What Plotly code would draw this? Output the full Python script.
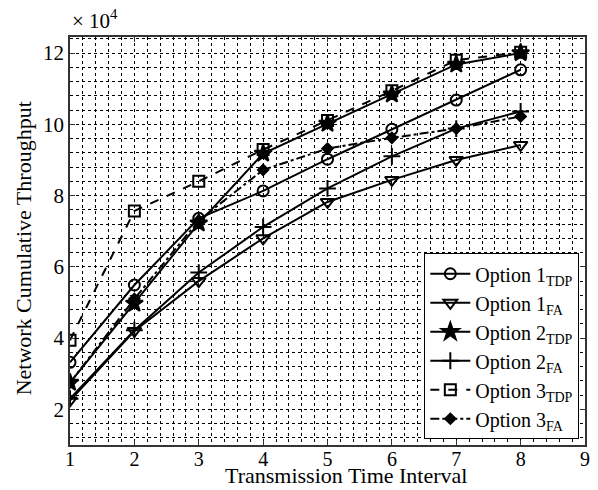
import plotly.graph_objects as go

tti = [1, 2, 3, 4, 5, 6, 7, 8]
opt1_tdp = [3.32, 5.49, 7.36, 8.13, 9.02, 9.86, 10.68, 11.53]
opt1_fa = [2.25, 4.2, 5.6, 6.8, 7.82, 8.44, 9.0, 9.42]
opt2_tdp = [2.75, 4.97, 7.22, 9.18, 10.02, 10.84, 11.68, 12.0]
opt2_fa = [2.3, 4.22, 5.84, 7.12, 8.2, 9.1, 9.88, 10.36]
opt3_tdp = [3.94, 7.57, 8.4, 9.29, 10.11, 10.94, 11.8, 12.02]
opt3_fa = [2.75, 5.1, 7.3, 8.72, 9.32, 9.62, 9.88, 10.22]

series = [
    ("Option 1<sub>TDP</sub>", opt1_tdp, "circle-open", "solid", 11),
    ("Option 1<sub>FA</sub>", opt1_fa, "triangle-down-open", "solid", 12),
    ("Option 2<sub>TDP</sub>", opt2_tdp, "star", "solid", 13),
    ("Option 2<sub>FA</sub>", opt2_fa, "cross-thin-open", "solid", 12),
    ("Option 3<sub>TDP</sub>", opt3_tdp, "square-open", "dash", 11),
    ("Option 3<sub>FA</sub>", opt3_fa, "diamond", "dashdot", 8),
]

fig = go.Figure()
for name, ys, sym, dash, size in series:
    fig.add_trace(go.Scatter(
        x=tti, y=ys, name=name, mode="lines+markers",
        line=dict(color="black", width=2, dash=dash),
        marker=dict(symbol=sym, size=size, color="black",
                    line=dict(color="black", width=2)),
    ))

font = dict(family="Liberation Serif", size=21, color="black")
xfont = dict(family="Liberation Serif", size=20, color="black")
tfont = dict(family="Liberation Serif", size=22, color="black")
lfont = dict(family="Liberation Serif", size=20, color="black")
axis_common = dict(
    showline=True, linecolor="#333", linewidth=1.5, mirror="ticks",
    ticks="inside", ticklen=5, tickcolor="#333",
    showgrid=True, gridcolor="black", griddash="dot", gridwidth=1,
    zeroline=False,
)
fig.update_xaxes(range=[1, 9], tick0=1, dtick=1, tickfont=xfont,
                 ticklabelstandoff=-5,
                 minor=dict(dtick=0.2, showgrid=True, gridcolor="black",
                            griddash="dot", gridwidth=1),
                 **axis_common)
fig.update_yaxes(range=[1.0, 12.45], tick0=0, dtick=2, tickfont=font,
                 minor=dict(dtick=0.4, tick0=0, showgrid=True, gridcolor="black",
                            griddash="dot", gridwidth=1),
                 **axis_common)

fig.add_annotation(text="Transmission Time Interval", xref="paper", yref="paper",
                   x=0.535, y=0, xanchor="center", yanchor="bottom", yshift=-45,
                   showarrow=False, font=tfont)
fig.add_annotation(text="Network Cumulative Throughput", xref="paper", yref="paper",
                   x=-0.0885, y=0.483, xanchor="center", yanchor="middle",
                   textangle=-90, showarrow=False, font=tfont)
fig.add_annotation(text="× 10<sup>4</sup>", xref="paper", yref="paper",
                   x=0.0, y=1.0, xanchor="left", yanchor="bottom",
                   showarrow=False, font=font, yshift=2)

fig.update_layout(
    width=598, height=490,
    margin=dict(l=70, r=8, t=37, b=45),
    paper_bgcolor="white", plot_bgcolor="white",
    font=font,
    legend=dict(x=0.688, y=0.47, xanchor="left", yanchor="top",
                bgcolor="white", bordercolor="black", borderwidth=1,
                font=lfont, tracegroupgap=0, itemwidth=40),
    showlegend=True,
)

fig.write_html("out.html")
